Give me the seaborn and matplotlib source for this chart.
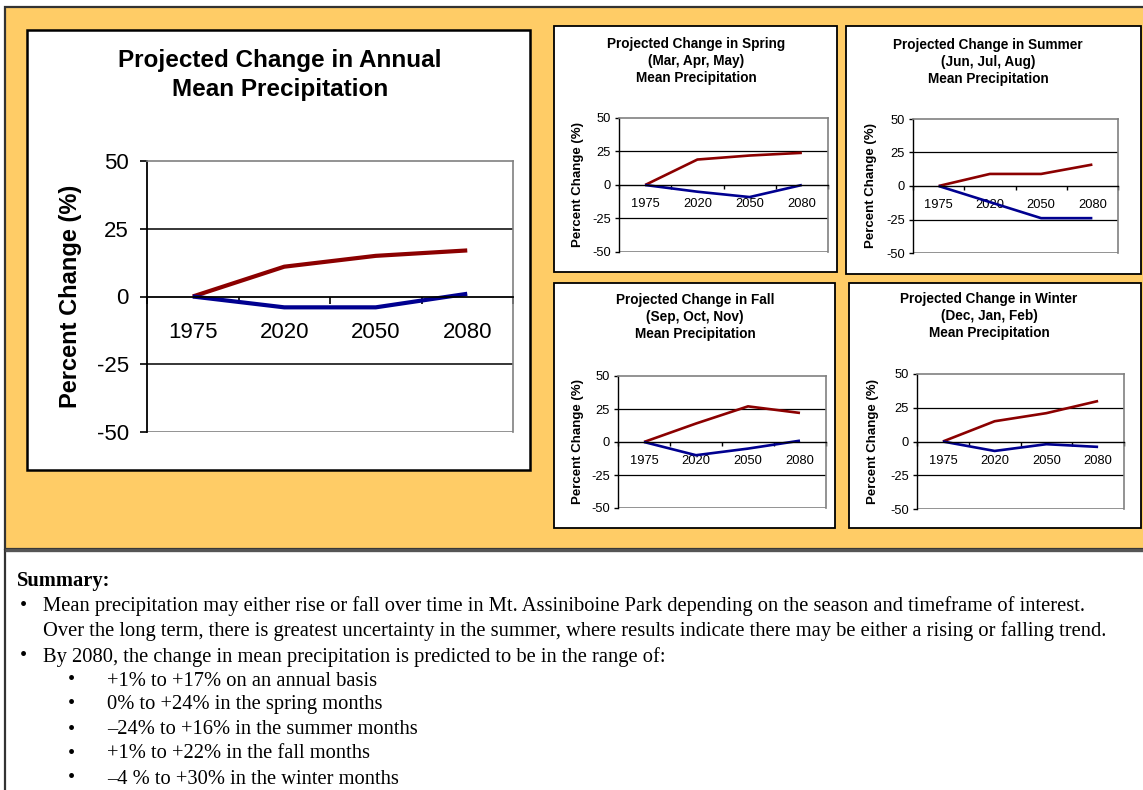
import matplotlib
matplotlib.use("Agg")
import matplotlib.pyplot as plt
from matplotlib.patches import Rectangle
from matplotlib.lines import Line2D
import seaborn as sns
import pandas as pd

# ---- data: percent change in mean precipitation relative to 1975 ----
years = ["1975", "2020", "2050", "2080"]

annual_high = [0, 11, 15, 17]
annual_low = [0, -4, -4, 1]
spring_high = [0, 19, 22, 24]
spring_low = [0, -5, -9, 0]
summer_high = [0, 9, 9, 16]
summer_low = [0, -12, -24, -24]
fall_high = [0, 14, 27, 22]
fall_low = [0, -10, -5, 1]
winter_high = [0, 15, 21, 30]
winter_low = [0, -7, -2, -4]

y_ticks = [-50, -25, 0, 25, 50]

summary_title = "Summary:"
summary_points = [
    "Mean precipitation may either rise or fall over time in Mt. Assiniboine Park depending on the season and timeframe of interest.\n"
    "Over the long term, there is greatest uncertainty in the summer, where results indicate there may be either a rising or falling trend.",
    "By 2080, the change in mean precipitation is predicted to be in the range of:",
]
summary_subpoints = [
    "+1% to +17% on an annual basis",
    "0% to +24% in the spring months",
    "\u201324% to +16% in the summer months",
    "+1% to +22% in the fall months",
    "\u20134 % to +30% in the winter months",
]

HIGH_COLOR = "#8B0000"
LOW_COLOR = "#000090"
PANEL_COLOR = "#FFCC66"

sns.set_theme(style="white")
plt.rcParams["font.family"] = ["Liberation Sans", "DejaVu Sans"]
plt.rcParams["lines.solid_capstyle"] = "butt"

W, H = 1143, 790
fig = plt.figure(figsize=(W / 100, H / 100), dpi=100)
fig.patch.set_facecolor("white")


def frac(x0, y0, x1, y1):
    return [x0 / W, 1 - y1 / H, (x1 - x0) / W, (y1 - y0) / H]


def fig_box(x0, y0, x1, y1, face, edge, lw, z=-5):
    l, b, w, h = frac(x0, y0, x1, y1)
    fig.add_artist(Rectangle((l, b), w, h, transform=fig.transFigure,
                             facecolor=face, edgecolor=edge, linewidth=lw, zorder=z))


# orange backdrop and the frame of the summary block
fig_box(5, 7, 1150, 549, PANEL_COLOR, "#333333", 1.6, z=-10)
fig.add_artist(Line2D([5 / W, 5 / W], [0, 1 - 549 / H], transform=fig.transFigure,
                      color="#333333", lw=1.6, zorder=-9))
fig.add_artist(Line2D([5 / W, 1], [1 - 550 / H, 1 - 550 / H], transform=fig.transFigure,
                      color="#555555", lw=2.4, zorder=-9))


def draw_chart(box, plot, title, title_xy, ylabel_x, high, low, big):
    fig_box(*box, "white", "black", 1.8 if big else 1.3)
    ax = fig.add_axes(frac(*plot))
    ax.set_facecolor("white")

    lw = 3.0 if big else 1.9
    sns.lineplot(x=years, y=high, color=HIGH_COLOR, lw=lw, sort=False, ax=ax)
    sns.lineplot(x=years, y=low, color=LOW_COLOR, lw=lw, sort=False, ax=ax)

    ax.set_xlim(-0.5, len(years) - 0.5)
    ax.set_ylim(y_ticks[0], y_ticks[-1])
    ax.set_yticks(y_ticks)
    ax.set_yticklabels([str(v) for v in y_ticks])

    # interior gridlines and the grey plot-area border
    for v in y_ticks[1:-1]:
        if v != 0:
            ax.axhline(v, color="black", lw=1.1 if big else 0.9, zorder=1)
    ax.axhline(y_ticks[0], color="#808080", lw=1.2, zorder=1)
    for side in ("top", "right"):
        ax.spines[side].set_color("#808080")
        ax.spines[side].set_linewidth(1.2)
    ax.spines["left"].set_color("black")
    ax.spines["left"].set_linewidth(1.3 if big else 1.0)
    ax.spines["bottom"].set_position(("data", 0))
    ax.spines["bottom"].set_color("black")
    ax.spines["bottom"].set_linewidth(1.3 if big else 1.0)

    ax.set_xticks(range(len(years)))
    ax.set_xticklabels(years)
    ax.set_xticks([i - 0.5 for i in range(len(years) + 1)], minor=True)

    fs = 16 if big else 9.3
    ax.tick_params(axis="x", which="major", length=0, pad=18 if big else 9.5,
                   labelsize=fs, labelcolor="black")
    ax.tick_params(axis="x", which="minor", bottom=True, direction="out",
                   length=5 if big else 3, width=1.2 if big else 1.0, color="black")
    ax.tick_params(axis="y", which="major", left=True, direction="out",
                   length=5 if big else 3, width=1.2 if big else 1.0, color="black",
                   pad=8 if big else 3, labelsize=fs, labelcolor="black")
    ax.set_xlabel("")
    ax.set_ylabel("Percent Change (%)", fontsize=17 if big else 9.5,
                  fontweight="bold", color="black")
    ax.yaxis.label.set_verticalalignment("center")
    ax.yaxis.set_label_coords((ylabel_x - plot[0]) / (plot[2] - plot[0]), 0.5)

    fig.text(title_xy[0] / W, 1 - title_xy[1] / H, title, ha="center", va="center",
             multialignment="center", fontsize=17.5 if big else 9.8, fontweight="bold",
             color="black", linespacing=1.31 if big else 1.24)
    return ax


draw_chart((27, 30, 530, 470), (147, 161, 513, 432),
           "Projected Change in Annual\nMean Precipitation", (280, 75), 70,
           annual_high, annual_low, True)
draw_chart((554, 26, 837, 272), (619, 118, 828, 252),
           "Projected Change in Spring\n(Mar, Apr, May)\nMean Precipitation", (696, 61), 578,
           spring_high, spring_low, False)
draw_chart((846, 26, 1141, 274), (913, 119, 1118, 253),
           "Projected Change in Summer\n(Jun, Jul, Aug)\nMean Precipitation", (988, 62), 871,
           summer_high, summer_low, False)
draw_chart((554, 283, 835, 528), (618, 376, 826, 508),
           "Projected Change in Fall\n(Sep, Oct, Nov)\nMean Precipitation", (695, 317), 578,
           fall_high, fall_low, False)
draw_chart((849, 283, 1141, 528), (917, 374, 1124, 509),
           "Projected Change in Winter\n(Dec, Jan, Feb)\nMean Precipitation", (989, 316), 873,
           winter_high, winter_low, False)

# ---- summary block ----
serif = ["Liberation Serif", "DejaVu Serif"]
sfs = 14.8
fig.text(17 / W, 1 - 581 / H, summary_title, family=serif, fontsize=sfs,
         fontweight="bold", va="center", ha="left", color="black")

line_y = [606, 657]
for y, txt in zip(line_y, summary_points):
    fig.text(20 / W, 1 - y / H, "\u2022", family=serif, fontsize=sfs, va="center", color="black")
    fig.text(43 / W, 1 - y / H, txt.split("\n")[0], family=serif, fontsize=sfs,
             va="center", ha="left", color="black")
    if "\n" in txt:
        fig.text(43 / W, 1 - (y + 25) / H, txt.split("\n")[1], family=serif,
                 fontsize=sfs, va="center", ha="left", color="black")

sub_y = [681, 705, 730, 754, 779]
for y, txt in zip(sub_y, summary_subpoints):
    fig.text(68 / W, 1 - y / H, "\u2022", family=serif, fontsize=sfs, va="center", color="black")
    fig.text(107 / W, 1 - y / H, txt, family=serif, fontsize=sfs, va="center",
             ha="left", color="black")

fig.savefig("out.png", dpi=100, facecolor="white")
